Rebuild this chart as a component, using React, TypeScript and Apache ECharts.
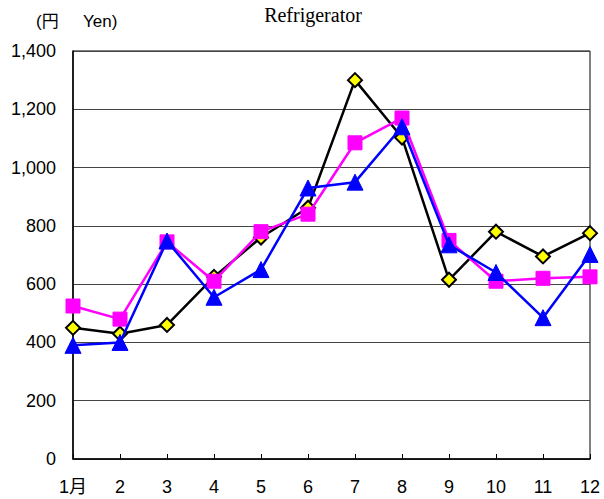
import React, { useEffect, useRef } from "react";
import * as echarts from "echarts";

const months = ["1月", "2", "3", "4", "5", "6", "7", "8", "9", "10", "11", "12"];
const seriesBlack = [450, 430, 460, 625, 760, 862, 1300, 1103, 615, 780, 695, 775];
const seriesMagenta = [525, 480, 745, 610, 780, 840, 1085, 1170, 750, 610, 620, 625];
const seriesBlue = [390, 400, 748, 555, 650, 930, 950, 1140, 735, 640, 485, 702];

const FONT = "Arial, 'Liberation Sans', 'Noto Sans CJK JP', sans-serif";

export default function App() {
  const ref = useRef<HTMLDivElement>(null);
  useEffect(() => {
    if (!ref.current) return;
    const chart = echarts.init(ref.current, undefined, { renderer: "svg" });
    chart.setOption({
      animation: false,
      backgroundColor: "#fff",
      title: [
        {
          text: "Refrigerator",
          left: 308,
          top: 0,
          textAlign: "center",
          textStyle: { fontFamily: "'Liberation Serif', 'Times New Roman', serif", fontSize: 20, fontWeight: "normal", color: "#000" },
        },
        {
          text: "(円",
          left: 31,
          top: 8,
          textStyle: { fontFamily: FONT, fontSize: 17, fontWeight: "normal", color: "#000" },
        },
        {
          text: "Yen)",
          left: 78,
          top: 8,
          textStyle: { fontFamily: FONT, fontSize: 17, fontWeight: "normal", color: "#000" },
        },
      ],
      grid: { left: 73, right: 14, top: 51, bottom: 40, show: true, borderColor: "#000", borderWidth: 1 },
      xAxis: {
        type: "category",
        data: months,
        boundaryGap: false,
        axisLine: { lineStyle: { color: "#000", width: 1.5 } },
        axisTick: { inside: true, length: 5, lineStyle: { color: "#000" } },
        axisLabel: { color: "#000", fontFamily: FONT, fontSize: 18, margin: 19 },
      },
      yAxis: {
        type: "value",
        min: 0,
        max: 1400,
        interval: 200,
        axisLine: { show: true, lineStyle: { color: "#000", width: 1.5 } },
        axisTick: { show: false },
        splitLine: { lineStyle: { color: "#444", width: 1 } },
        axisLabel: {
          color: "#000",
          fontFamily: FONT,
          fontSize: 18,
          margin: 17,
          formatter: (v: number) => v.toLocaleString("en-US"),
        },
      },
      series: [
        {
          type: "line",
          data: seriesBlack,
          symbol: "diamond",
          symbolSize: 14,
          lineStyle: { color: "#000", width: 2.5 },
          itemStyle: { color: "#ffff00", borderColor: "#000", borderWidth: 2 },
          z: 2,
        },
        {
          type: "line",
          data: seriesMagenta,
          symbol: "rect",
          symbolSize: 14,
          lineStyle: { color: "#ff00ff", width: 2.5 },
          itemStyle: { color: "#ff00ff", borderColor: "#ff00ff", borderWidth: 1 },
          z: 3,
        },
        {
          type: "line",
          data: seriesBlue,
          symbol: "triangle",
          symbolSize: 16,
          lineStyle: { color: "#0000ff", width: 2.5 },
          itemStyle: { color: "#0000ff", borderColor: "#0000ff", borderWidth: 1 },
          z: 4,
        },
      ],
    });
    return () => chart.dispose();
  }, []);
  return <div ref={ref} style={{ position: "fixed", left: 0, top: 0, width: 604, height: 499 }} />;
}
